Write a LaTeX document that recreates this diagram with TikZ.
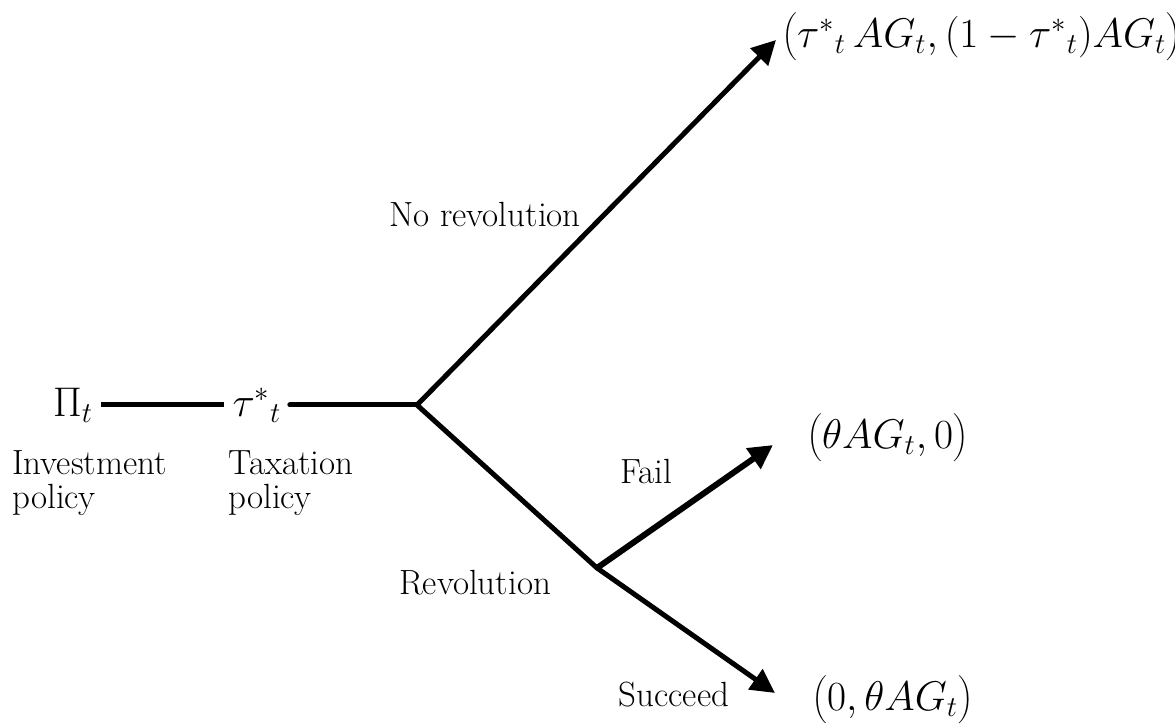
\documentclass[tikz,border=0pt]{standalone}
\usepackage{fontspec}
\usetikzlibrary{arrows.meta,positioning}
\newcommand{\payoff}[1]{$\left(\vrule height 17pt depth 7pt width 0pt #1\right)$}

\begin{document}
\begin{tikzpicture}[x=0.5pt,y=-0.5pt,
    branch/.style={line width=2.5pt, line cap=round},
    move/.style={line width=2.5pt, -{Triangle[length=12pt,width=12pt]}},
    lab/.style={font=\fontsize{17.5}{17}\selectfont, inner sep=0pt},
    pay/.style={font=\fontsize{20}{24}\selectfont, inner sep=0pt, anchor=west},
    policy/.style={lab, align=left, anchor=north west}]
    \useasboundingbox (0,0) rectangle (1175,726);
    % decision nodes
    \node(P) at (73,405) [font=\fontsize{20}{24}\selectfont, inner sep=4pt] {$\Pi_{t}$};
    \node(T) at (257,405) [font=\fontsize{20}{24}\selectfont, inner sep=4pt] {$\tau^{*}{}_{t}$};
    \coordinate(R) at (417,405);
    \coordinate(V) at (597,568);
    \coordinate(up) at (776,40);
    \coordinate(fail) at (773,445);
    \coordinate(succ) at (775,693);
    % payoffs
    \node(U) at (782,37) [pay, font=\fontsize{19.5}{24}\selectfont] {\payoff{\tau^{*}{}_{t}\,AG_{t},(1-\tau^{*}{}_{t})AG_{t}}};
    \node(F) at (807,438) [pay] {\payoff{\theta AG_{t},0}};
    \node(S) at (812,700) [pay] {\payoff{0,\theta AG_{t}}};
    % labels
    \node(I) at (12,450) [policy] {Investment\\policy};
    \node(X) at (228,450) [policy] {Taxation\\policy};
    \node(NR) at (485,215) [lab] {No revolution};
    \node(RV) at (475,583) [lab] {Revolution};
    \node(FL) at (646,472) [lab] {Fail};
    \node(SC) at (674,695) [lab] {Succeed};
    % tree
    \draw[line width=2.5pt] (P) -- (T);
    \draw[branch] (T) -- (R);
    \draw[move] (R) -- (up);
    \draw[branch] (R) -- (V);
    \draw[move, line width=3pt] (V) -- (fail);
    \draw[move] (V) -- (succ);
\end{tikzpicture}
\end{document}
